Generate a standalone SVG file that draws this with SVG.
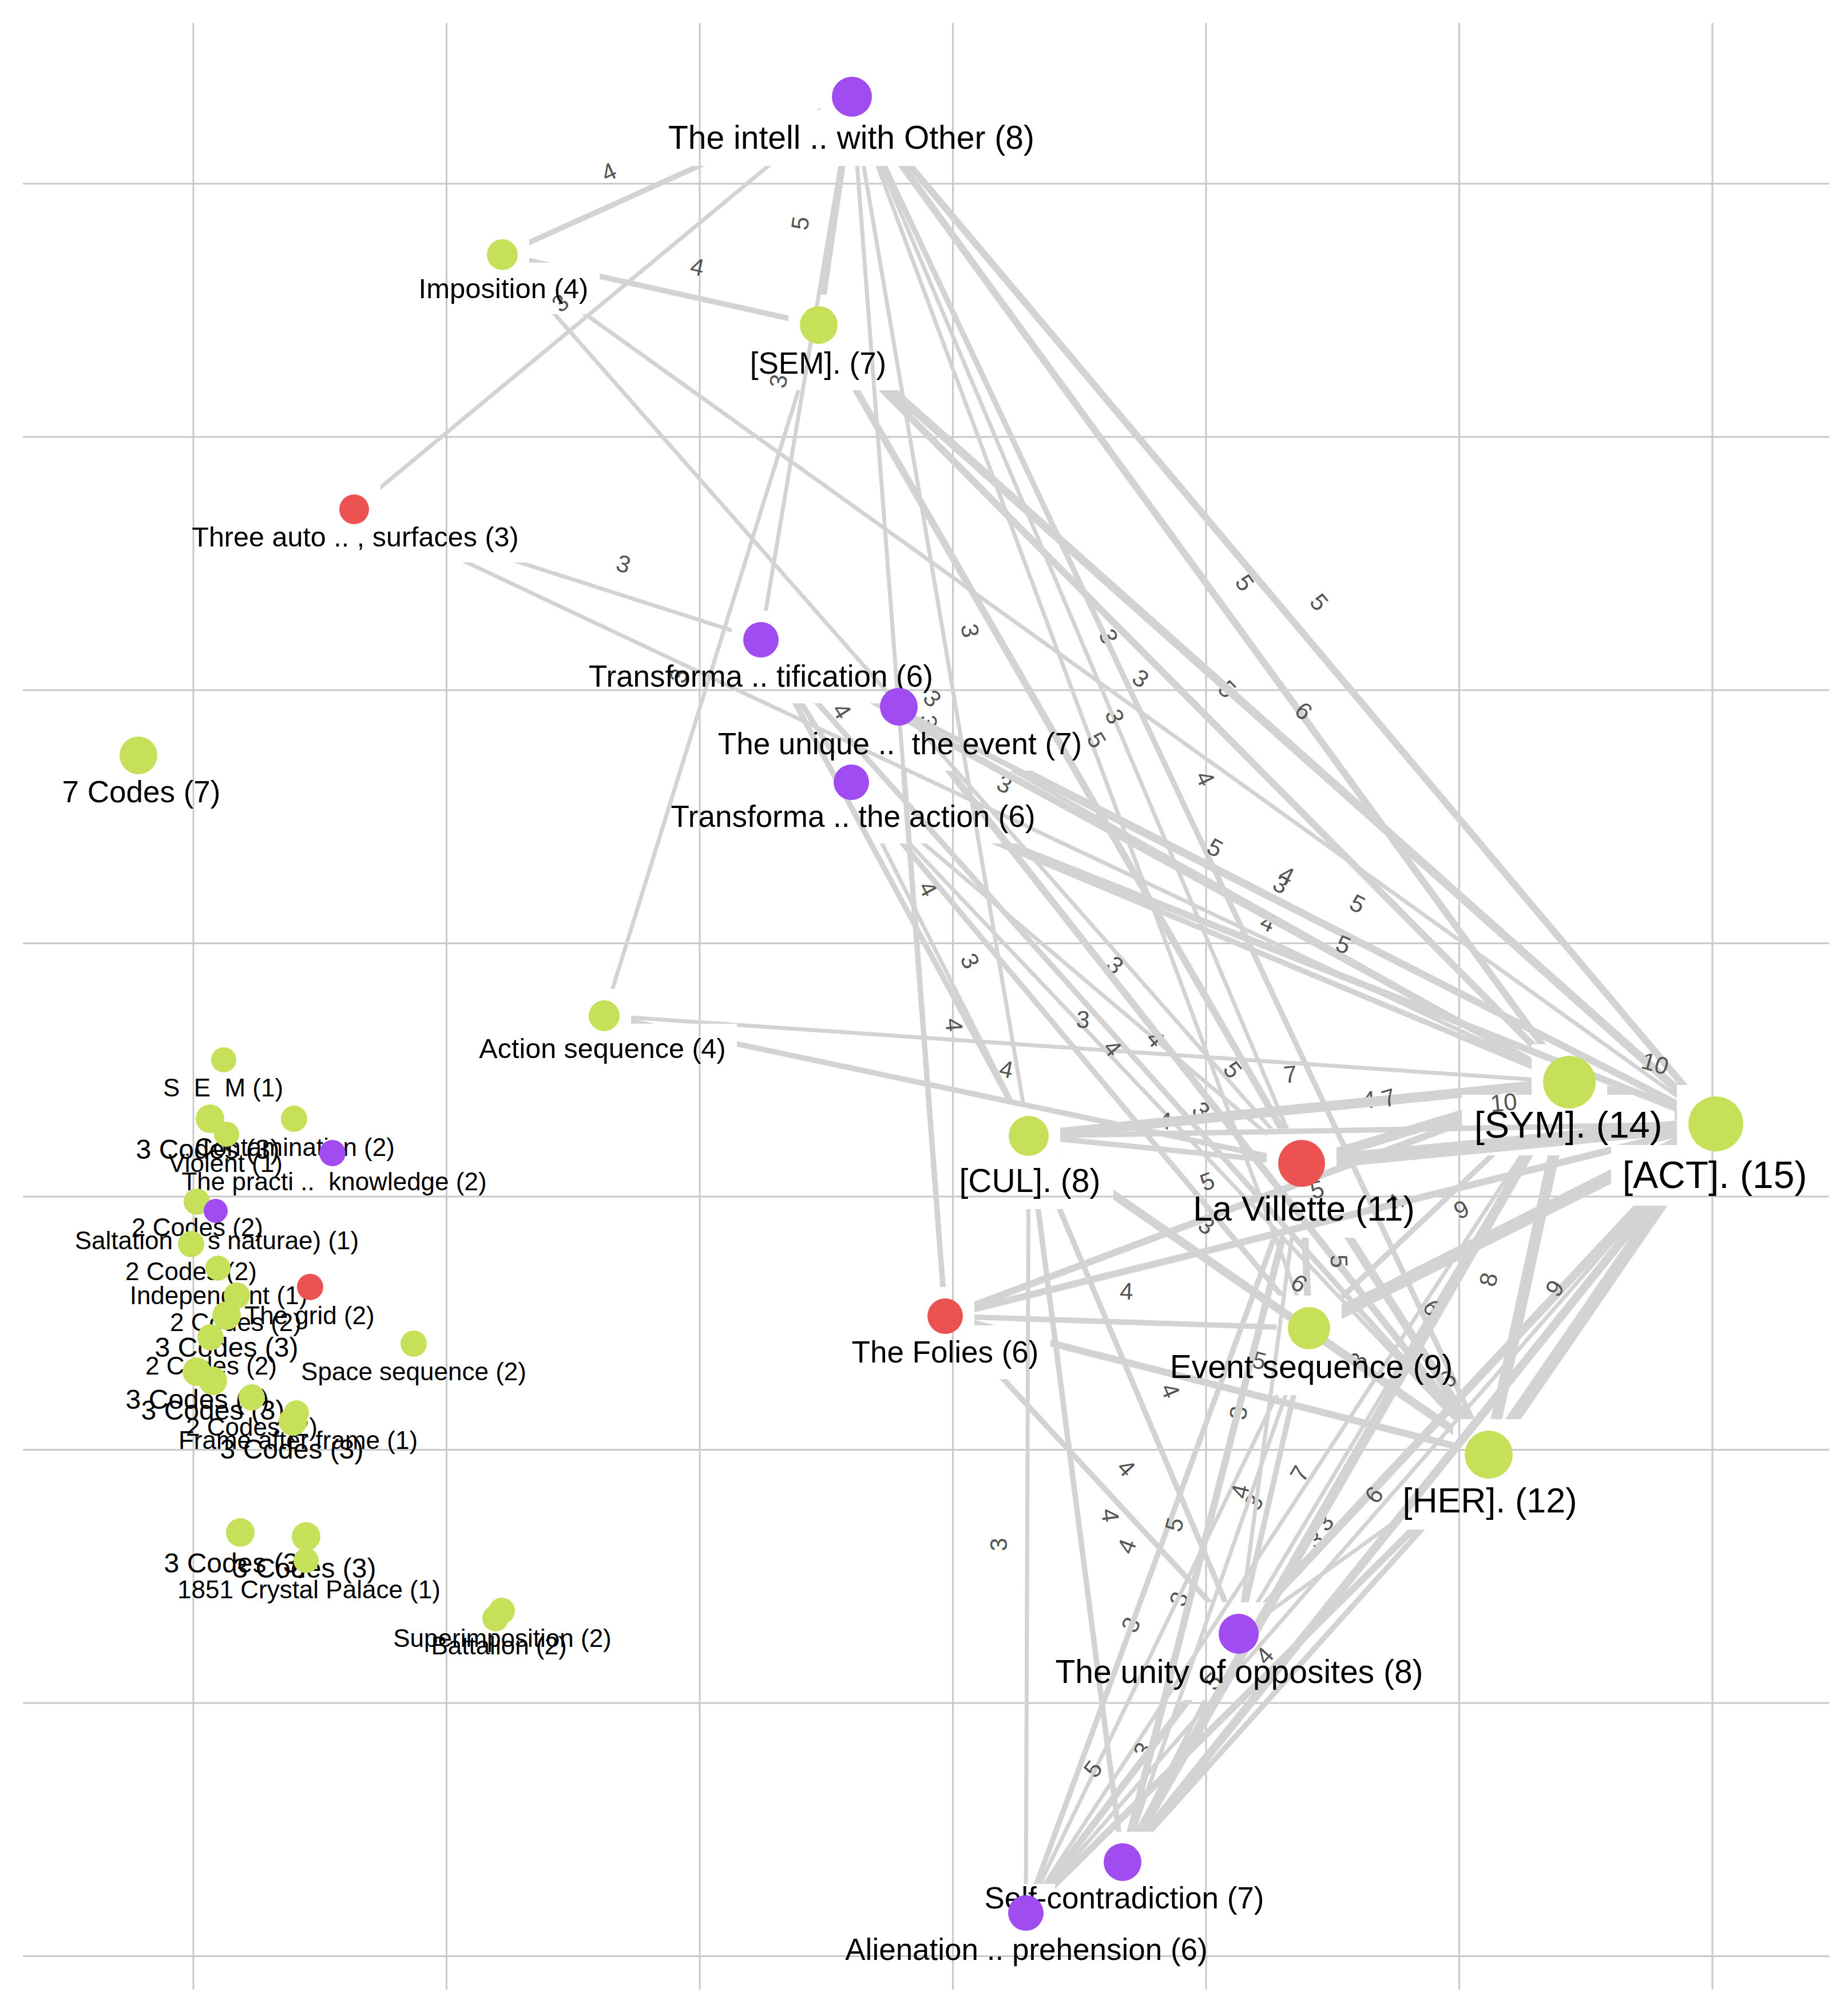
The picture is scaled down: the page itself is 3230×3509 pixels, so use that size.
<svg xmlns="http://www.w3.org/2000/svg" width="3230" height="3509" viewBox="0 0 3230 3509">
<defs>
<style>
.grid line{stroke:#c9c9c9;stroke-width:3}
.e{stroke:#d3d3d3;fill:none}
.w3{stroke-width:7}.w4{stroke-width:9.6}.w5{stroke-width:12.2}.w6{stroke-width:14.8}.w7{stroke-width:17.4}.w8{stroke-width:20}.w9{stroke-width:22.6}.w10{stroke-width:25}
.el{font-family:"Liberation Sans",Arial,sans-serif;font-size:42px;fill:#555;text-anchor:middle}
.nl{font-family:"Liberation Sans",Arial,sans-serif;fill:#000;text-anchor:middle;white-space:pre}
.g{fill:#c6e05a}.p{fill:#a04cf0}.r{fill:#ec5252}
</style>
<mask id="mA" maskUnits="userSpaceOnUse" x="0" y="0" width="3230" height="3509"><rect width="3230" height="3509" fill="#fff"/><rect x="1434" y="114" width="110" height="110"/><rect x="1147" y="192" width="683" height="98"/></mask>
<mask id="mB" maskUnits="userSpaceOnUse" x="0" y="0" width="3230" height="3509"><rect width="3230" height="3509" fill="#fff"/><rect x="831" y="398" width="94" height="94"/><rect x="713" y="459" width="335" height="90"/></mask>
<mask id="mC" maskUnits="userSpaceOnUse" x="0" y="0" width="3230" height="3509"><rect width="3230" height="3509" fill="#fff"/><rect x="1378" y="515" width="106" height="106"/><rect x="1291" y="588" width="278" height="94"/></mask>
<mask id="mD" maskUnits="userSpaceOnUse" x="0" y="0" width="3230" height="3509"><rect width="3230" height="3509" fill="#fff"/><rect x="573" y="844" width="92" height="92"/><rect x="315" y="895" width="612" height="88"/></mask>
<mask id="mE" maskUnits="userSpaceOnUse" x="0" y="0" width="3230" height="3509"><rect width="3230" height="3509" fill="#fff"/><rect x="1279" y="1067" width="102" height="102"/><rect x="1009" y="1135" width="642" height="94"/></mask>
<mask id="mF" maskUnits="userSpaceOnUse" x="0" y="0" width="3230" height="3509"><rect width="3230" height="3509" fill="#fff"/><rect x="1518" y="1182" width="106" height="106"/><rect x="1235" y="1253" width="676" height="94"/></mask>
<mask id="mG" maskUnits="userSpaceOnUse" x="0" y="0" width="3230" height="3509"><rect width="3230" height="3509" fill="#fff"/><rect x="1437" y="1316" width="102" height="102"/><rect x="1154" y="1380" width="674" height="94"/></mask>
<mask id="mI" maskUnits="userSpaceOnUse" x="0" y="0" width="3230" height="3509"><rect width="3230" height="3509" fill="#fff"/><rect x="1009" y="1728" width="94" height="94"/><rect x="818" y="1789" width="470" height="88"/></mask>
<mask id="mJ" maskUnits="userSpaceOnUse" x="0" y="0" width="3230" height="3509"><rect width="3230" height="3509" fill="#fff"/><rect x="1743" y="1930" width="110" height="110"/><rect x="1654" y="2015" width="292" height="98"/></mask>
<mask id="mK" maskUnits="userSpaceOnUse" x="0" y="0" width="3230" height="3509"><rect width="3230" height="3509" fill="#fff"/><rect x="2214" y="1972" width="122" height="122"/><rect x="2063" y="2061" width="432" height="102"/></mask>
<mask id="mL" maskUnits="userSpaceOnUse" x="0" y="0" width="3230" height="3509"><rect width="3230" height="3509" fill="#fff"/><rect x="2677" y="1825" width="132" height="132"/><rect x="2555" y="1913" width="372" height="106"/></mask>
<mask id="mM" maskUnits="userSpaceOnUse" x="0" y="0" width="3230" height="3509"><rect width="3230" height="3509" fill="#fff"/><rect x="2931" y="1896" width="136" height="136"/><rect x="2816" y="2001" width="362" height="106"/></mask>
<mask id="mN" maskUnits="userSpaceOnUse" x="0" y="0" width="3230" height="3509"><rect width="3230" height="3509" fill="#fff"/><rect x="1601" y="2249" width="102" height="102"/><rect x="1468" y="2316" width="368" height="94"/></mask>
<mask id="mO" maskUnits="userSpaceOnUse" x="0" y="0" width="3230" height="3509"><rect width="3230" height="3509" fill="#fff"/><rect x="2231" y="2264" width="114" height="114"/><rect x="2024" y="2340" width="536" height="98"/></mask>
<mask id="mP" maskUnits="userSpaceOnUse" x="0" y="0" width="3230" height="3509"><rect width="3230" height="3509" fill="#fff"/><rect x="2540" y="2480" width="124" height="124"/><rect x="2430" y="2571" width="348" height="102"/></mask>
<mask id="mQ" maskUnits="userSpaceOnUse" x="0" y="0" width="3230" height="3509"><rect width="3230" height="3509" fill="#fff"/><rect x="2110" y="2800" width="110" height="110"/><rect x="1821" y="2873" width="690" height="98"/></mask>
<mask id="mR" maskUnits="userSpaceOnUse" x="0" y="0" width="3230" height="3509"><rect width="3230" height="3509" fill="#fff"/><rect x="1909" y="3201" width="106" height="106"/><rect x="1700" y="3270" width="530" height="94"/></mask>
<mask id="mS" maskUnits="userSpaceOnUse" x="0" y="0" width="3230" height="3509"><rect width="3230" height="3509" fill="#fff"/><rect x="1742" y="3292" width="102" height="102"/><rect x="1458" y="3360" width="672" height="94"/></mask>
</defs>
<rect width="3230" height="3509" fill="#fff"/>
<g class="grid">
<line x1="338" y1="40" x2="338" y2="3477"/><line x1="780.5" y1="40" x2="780.5" y2="3477"/><line x1="1223" y1="40" x2="1223" y2="3477"/><line x1="1665.5" y1="40" x2="1665.5" y2="3477"/><line x1="2108" y1="40" x2="2108" y2="3477"/><line x1="2550.5" y1="40" x2="2550.5" y2="3477"/><line x1="2993" y1="40" x2="2993" y2="3477"/>
<line x1="40" y1="321" x2="3197" y2="321"/><line x1="40" y1="763.5" x2="3197" y2="763.5"/><line x1="40" y1="1206" x2="3197" y2="1206"/><line x1="40" y1="1648.5" x2="3197" y2="1648.5"/><line x1="40" y1="2091" x2="3197" y2="2091"/><line x1="40" y1="2533.5" x2="3197" y2="2533.5"/><line x1="40" y1="2976" x2="3197" y2="2976"/><line x1="40" y1="3418.5" x2="3197" y2="3418.5"/>
</g>
<g id="connectors">
<g mask="url(#mA)"><line class="e w3" x1="1489" y1="169" x2="619" y2="890" mask="url(#mD)"/></g><text class="el" transform="translate(979 529) rotate(-39.6)" y="15">3</text>
<g mask="url(#mA)"><line class="e w3" x1="1489" y1="169" x2="1330" y2="1118" mask="url(#mE)"/></g><text class="el" transform="translate(1360 666) rotate(-80.5)" y="15">3</text>
<g mask="url(#mA)"><line class="e w3" x1="1489" y1="169" x2="1652" y2="2300" mask="url(#mN)"/></g><text class="el" transform="translate(1623 1261) rotate(85.6)" y="15">3</text>
<g mask="url(#mA)"><line class="e w3" x1="1489" y1="169" x2="1798" y2="1985" mask="url(#mJ)"/></g><text class="el" transform="translate(1696 1102) rotate(80.3)" y="15">3</text>
<g mask="url(#mA)"><line class="e w3" x1="1489" y1="169" x2="2275" y2="2033" mask="url(#mK)"/></g><text class="el" transform="translate(1938 1112) rotate(67.1)" y="15">3</text>
<g mask="url(#mA)"><line class="e w3" x1="1489" y1="169" x2="2288" y2="2321" mask="url(#mO)"/></g><text class="el" transform="translate(1949 1252) rotate(69.6)" y="15">3</text>
<g mask="url(#mB)"><line class="e w3" x1="878" y1="445" x2="2275" y2="2033" mask="url(#mK)"/></g><text class="el" transform="translate(1630 1220) rotate(48.7)" y="15">3</text>
<g mask="url(#mB)"><line class="e w3" x1="878" y1="445" x2="2999" y2="1964" mask="url(#mM)"/></g><text class="el" transform="translate(1994 1185) rotate(35.6)" y="15">3</text>
<g mask="url(#mC)"><line class="e w3" x1="1431" y1="568" x2="1056" y2="1775" mask="url(#mI)"/></g><text class="el" transform="translate(1186 1181) rotate(-72.7)" y="15">3</text>
<g mask="url(#mD)"><line class="e w3" x1="619" y1="890" x2="1330" y2="1118" mask="url(#mE)"/></g><text class="el" transform="translate(1090 985) rotate(17.8)" y="15">3</text>
<g mask="url(#mD)"><line class="e w3" x1="619" y1="890" x2="2743" y2="1891" mask="url(#mL)"/></g><text class="el" transform="translate(1756 1370) rotate(25.2)" y="15">3</text>
<g mask="url(#mF)"><line class="e w3" x1="1571" y1="1235" x2="2743" y2="1891" mask="url(#mL)"/></g><text class="el" transform="translate(2239 1545) rotate(29.2)" y="15">3</text>
<g mask="url(#mG)"><line class="e w3" x1="1488" y1="1367" x2="1798" y2="1985" mask="url(#mJ)"/></g><text class="el" transform="translate(1696 1679) rotate(63.4)" y="15">3</text>
<g mask="url(#mG)"><line class="e w3" x1="1488" y1="1367" x2="2275" y2="2033" mask="url(#mK)"/></g><text class="el" transform="translate(1949 1686) rotate(40.2)" y="15">3</text>
<g mask="url(#mG)"><line class="e w3" x1="1488" y1="1367" x2="2602" y2="2542" mask="url(#mP)"/></g><text class="el" transform="translate(2100 1940) rotate(46.5)" y="15">3</text>
<g mask="url(#mI)"><line class="e w3" x1="1056" y1="1775" x2="2743" y2="1891" mask="url(#mL)"/></g><text class="el" transform="translate(1893 1781) rotate(3.9)" y="15">3</text>
<g mask="url(#mJ)"><line class="e w3" x1="1798" y1="1985" x2="2288" y2="2321" mask="url(#mO)"/></g><text class="el" transform="translate(2109 2141) rotate(34.4)" y="15">3</text>
<g mask="url(#mJ)"><line class="e w3" x1="1798" y1="1985" x2="1793" y2="3343" mask="url(#mS)"/></g><text class="el" transform="translate(1745 2699) rotate(-90)" y="15">3</text>
<g mask="url(#mL)"><line class="e w3" x1="2743" y1="1891" x2="2165" y2="2855" mask="url(#mQ)"/></g><text class="el" transform="translate(2373 2377) rotate(-59)" y="15">3</text>
<g mask="url(#mL)"><line class="e w3" x1="2743" y1="1891" x2="1793" y2="3343" mask="url(#mS)"/></g><text class="el" transform="translate(2191 2625) rotate(-56.8)" y="15">3</text>
<g mask="url(#mM)"><line class="e w3" x1="2999" y1="1964" x2="1793" y2="3343" mask="url(#mS)"/></g><text class="el" transform="translate(2315 2660) rotate(-48.8)" y="15">3</text>
<g mask="url(#mK)"><line class="e w3" x1="2275" y1="2033" x2="2165" y2="2855" mask="url(#mQ)"/></g><text class="el" transform="translate(2164 2469) rotate(-82.4)" y="15">3</text>
<g mask="url(#mO)"><line class="e w3" x1="2288" y1="2321" x2="2602" y2="2542" mask="url(#mP)"/></g>
<g mask="url(#mO)"><line class="e w3" x1="2288" y1="2321" x2="1962" y2="3254" mask="url(#mR)"/></g><text class="el" transform="translate(2060 2794) rotate(-70.7)" y="15">3</text>
<g mask="url(#mO)"><line class="e w3" x1="2288" y1="2321" x2="1793" y2="3343" mask="url(#mS)"/></g><text class="el" transform="translate(1976 2839) rotate(-64.2)" y="15">3</text>
<g mask="url(#mP)"><line class="e w3" x1="2602" y1="2542" x2="2165" y2="2855" mask="url(#mQ)"/></g><text class="el" transform="translate(2299 2690) rotate(-35.6)" y="15">3</text>
<g mask="url(#mQ)"><line class="e w3" x1="2165" y1="2855" x2="1962" y2="3254" mask="url(#mR)"/></g><text class="el" transform="translate(1997 3058) rotate(-63)" y="15">3</text>
<g mask="url(#mA)"><line class="e w4" x1="1489" y1="169" x2="878" y2="445" mask="url(#mB)"/></g><text class="el" transform="translate(1064 300) rotate(-24.3)" y="15">4</text>
<g mask="url(#mB)"><line class="e w4" x1="878" y1="445" x2="1431" y2="568" mask="url(#mC)"/></g><text class="el" transform="translate(1219 466) rotate(12.5)" y="15">4</text>
<g mask="url(#mA)"><line class="e w4" x1="1489" y1="169" x2="2602" y2="2542" mask="url(#mP)"/></g><text class="el" transform="translate(2107 1360) rotate(64.9)" y="15">4</text>
<g mask="url(#mE)"><line class="e w4" x1="1330" y1="1118" x2="1488" y2="1367" mask="url(#mG)"/></g><text class="el" transform="translate(1472 1242) rotate(57.6)" y="15">4</text>
<g mask="url(#mE)"><line class="e w4" x1="1330" y1="1118" x2="1798" y2="1985" mask="url(#mJ)"/></g><text class="el" transform="translate(1623 1553) rotate(61.6)" y="15">4</text>
<g mask="url(#mE)"><line class="e w4" x1="1330" y1="1118" x2="2602" y2="2542" mask="url(#mP)"/></g><text class="el" transform="translate(2020 1815) rotate(48.2)" y="15">4</text>
<g mask="url(#mE)"><line class="e w4" x1="1330" y1="1118" x2="2999" y2="1964" mask="url(#mM)"/></g><text class="el" transform="translate(2249 1529) rotate(26.9)" y="15">4</text>
<g mask="url(#mF)"><line class="e w4" x1="1571" y1="1235" x2="1652" y2="2300" mask="url(#mN)"/></g><text class="el" transform="translate(1668 1791) rotate(85.7)" y="15">4</text>
<g mask="url(#mG)"><line class="e w4" x1="1488" y1="1367" x2="2288" y2="2321" mask="url(#mO)"/></g><text class="el" transform="translate(1945 1831) rotate(50)" y="15">4</text>
<g mask="url(#mG)"><line class="e w4" x1="1488" y1="1367" x2="2743" y2="1891" mask="url(#mL)"/></g><text class="el" transform="translate(2216 1612) rotate(22.7)" y="15">4</text>
<g mask="url(#mI)"><line class="e w4" x1="1056" y1="1775" x2="2275" y2="2033" mask="url(#mK)"/></g><text class="el" transform="translate(1759 1868) rotate(12)" y="15">4</text>
<g mask="url(#mJ)"><line class="e w4" x1="1798" y1="1985" x2="2275" y2="2033" mask="url(#mK)"/></g><text class="el" transform="translate(2036 1958) rotate(5.7)" y="15">4</text>
<g mask="url(#mJ)"><line class="e w4" x1="1798" y1="1985" x2="2999" y2="1964" mask="url(#mM)"/></g><text class="el" transform="translate(2392 1921) rotate(-1)" y="15">4</text>
<g mask="url(#mJ)"><line class="e w4" x1="1798" y1="1985" x2="2165" y2="2855" mask="url(#mQ)"/></g><text class="el" transform="translate(2046 2430) rotate(67.1)" y="15">4</text>
<g mask="url(#mJ)"><line class="e w4" x1="1798" y1="1985" x2="1962" y2="3254" mask="url(#mR)"/></g><text class="el" transform="translate(1941 2648) rotate(82.6)" y="15">4</text>
<g mask="url(#mN)"><line class="e w4" x1="1652" y1="2300" x2="2288" y2="2321" mask="url(#mO)"/></g><text class="el" transform="translate(1969 2256) rotate(1.9)" y="15">4</text>
<g mask="url(#mN)"><line class="e w4" x1="1652" y1="2300" x2="2165" y2="2855" mask="url(#mQ)"/></g><text class="el" transform="translate(1969 2565) rotate(47.3)" y="15">4</text>
<g mask="url(#mL)"><line class="e w4" x1="2743" y1="1891" x2="2288" y2="2321" mask="url(#mO)"/></g><text class="el" transform="translate(2439 2101) rotate(-43.4)" y="15">4</text>
<g mask="url(#mK)"><line class="e w4" x1="2275" y1="2033" x2="1793" y2="3343" mask="url(#mS)"/></g><text class="el" transform="translate(1969 2702) rotate(-69.8)" y="15">4</text>
<g mask="url(#mO)"><line class="e w4" x1="2288" y1="2321" x2="2165" y2="2855" mask="url(#mQ)"/></g><text class="el" transform="translate(2167 2606) rotate(-77)" y="15">4</text>
<g mask="url(#mP)"><line class="e w4" x1="2602" y1="2542" x2="1962" y2="3254" mask="url(#mR)"/></g><text class="el" transform="translate(2210 2893) rotate(-48.1)" y="15">4</text>
<g mask="url(#mA)"><line class="e w5" x1="1489" y1="169" x2="1431" y2="568" mask="url(#mC)"/></g><text class="el" transform="translate(1398 390) rotate(-81.7)" y="15">5</text>
<g mask="url(#mA)"><line class="e w5" x1="1489" y1="169" x2="2743" y2="1891" mask="url(#mL)"/></g><text class="el" transform="translate(2176 1018) rotate(53.9)" y="15">5</text>
<g mask="url(#mA)"><line class="e w5" x1="1489" y1="169" x2="2999" y2="1964" mask="url(#mM)"/></g><text class="el" transform="translate(2306 1052) rotate(49.9)" y="15">5</text>
<g mask="url(#mC)"><line class="e w5" x1="1431" y1="568" x2="2275" y2="2033" mask="url(#mK)"/></g><text class="el" transform="translate(1917 1293) rotate(60.1)" y="15">5</text>
<g mask="url(#mC)"><line class="e w5" x1="1431" y1="568" x2="2743" y2="1891" mask="url(#mL)"/></g><text class="el" transform="translate(2145 1204) rotate(45.2)" y="15">5</text>
<g mask="url(#mE)"><line class="e w5" x1="1330" y1="1118" x2="2743" y2="1891" mask="url(#mL)"/></g><text class="el" transform="translate(2124 1481) rotate(28.7)" y="15">5</text>
<g mask="url(#mF)"><line class="e w5" x1="1571" y1="1235" x2="2999" y2="1964" mask="url(#mM)"/></g><text class="el" transform="translate(2373 1579) rotate(27)" y="15">5</text>
<g mask="url(#mF)"><line class="e w5" x1="1571" y1="1235" x2="2602" y2="2542" mask="url(#mP)"/></g><text class="el" transform="translate(2155 1869) rotate(51.7)" y="15">5</text>
<g mask="url(#mG)"><line class="e w5" x1="1488" y1="1367" x2="2999" y2="1964" mask="url(#mM)"/></g><text class="el" transform="translate(2348 1650) rotate(21.6)" y="15">5</text>
<g mask="url(#mN)"><line class="e w5" x1="1652" y1="2300" x2="2743" y2="1891" mask="url(#mL)"/></g><text class="el" transform="translate(2110 2064) rotate(-20.6)" y="15">5</text>
<g mask="url(#mN)"><line class="e w5" x1="1652" y1="2300" x2="2999" y2="1964" mask="url(#mM)"/></g><text class="el" transform="translate(2302 2078) rotate(-14)" y="15">5</text>
<g mask="url(#mN)"><line class="e w5" x1="1652" y1="2300" x2="2602" y2="2542" mask="url(#mP)"/></g><text class="el" transform="translate(2201 2377) rotate(14.3)" y="15">5</text>
<g mask="url(#mK)"><line class="e w5" x1="2275" y1="2033" x2="1962" y2="3254" mask="url(#mR)"/></g><text class="el" transform="translate(2052 2664) rotate(-75.6)" y="15">5</text>
<g mask="url(#mK)"><line class="e w5" x1="2275" y1="2033" x2="2288" y2="2321" mask="url(#mO)"/></g><text class="el" transform="translate(2341 2204) rotate(87.4)" y="15">5</text>
<g mask="url(#mP)"><line class="e w5" x1="2602" y1="2542" x2="1793" y2="3343" mask="url(#mS)"/></g><text class="el" transform="translate(2120 2938) rotate(-44.7)" y="15">5</text>
<g mask="url(#mQ)"><line class="e w5" x1="2165" y1="2855" x2="1793" y2="3343" mask="url(#mS)"/></g><text class="el" transform="translate(1910 3091) rotate(-52.7)" y="15">5</text>
<g mask="url(#mC)"><line class="e w6" x1="1431" y1="568" x2="2999" y2="1964" mask="url(#mM)"/></g><text class="el" transform="translate(2279 1242) rotate(41.7)" y="15">6</text>
<g mask="url(#mJ)"><line class="e w6" x1="1798" y1="1985" x2="2602" y2="2542" mask="url(#mP)"/></g><text class="el" transform="translate(2271 2242) rotate(34.7)" y="15">6</text>
<g mask="url(#mM)"><line class="e w6" x1="2999" y1="1964" x2="2165" y2="2855" mask="url(#mQ)"/></g><text class="el" transform="translate(2530 2410) rotate(-46.9)" y="15">6</text>
<g mask="url(#mM)"><line class="e w6" x1="2999" y1="1964" x2="1962" y2="3254" mask="url(#mR)"/></g><text class="el" transform="translate(2401 2612) rotate(-51.2)" y="15">6</text>
<g mask="url(#mK)"><line class="e w6" x1="2275" y1="2033" x2="2602" y2="2542" mask="url(#mP)"/></g><text class="el" transform="translate(2504 2285) rotate(57.3)" y="15">6</text>
<g mask="url(#mJ)"><line class="e w7" x1="1798" y1="1985" x2="2743" y2="1891" mask="url(#mL)"/></g><text class="el" transform="translate(2255 1877) rotate(-5.7)" y="15">7</text>
<g mask="url(#mK)"><line class="e w7" x1="2275" y1="2033" x2="2743" y2="1891" mask="url(#mL)"/></g><text class="el" transform="translate(2427 1918) rotate(-16.9)" y="15">7</text>
<g mask="url(#mL)"><line class="e w7" x1="2743" y1="1891" x2="1962" y2="3254" mask="url(#mR)"/></g><text class="el" transform="translate(2271 2575) rotate(-60.2)" y="15">7</text>
<g mask="url(#mL)"><line class="e w8" x1="2743" y1="1891" x2="2602" y2="2542" mask="url(#mP)"/></g><text class="el" transform="translate(2601 2236) rotate(-77.8)" y="15">8</text>
<g mask="url(#mM)"><line class="e w9" x1="2999" y1="1964" x2="2602" y2="2542" mask="url(#mP)"/></g><text class="el" transform="translate(2717 2251) rotate(-55.5)" y="15">9</text>
<g mask="url(#mM)"><line class="e w9" x1="2999" y1="1964" x2="2288" y2="2321" mask="url(#mO)"/></g><text class="el" transform="translate(2554 2113) rotate(-26.7)" y="15">9</text>
<g mask="url(#mK)"><line class="e w10" x1="2275" y1="2033" x2="2999" y2="1964" mask="url(#mM)"/></g><text class="el" transform="translate(2628 1926) rotate(-5.4)" y="15">10</text>
<g mask="url(#mL)"><line class="e w10" x1="2743" y1="1891" x2="2999" y2="1964" mask="url(#mM)"/></g><text class="el" transform="translate(2893 1858) rotate(15.9)" y="15">10</text>
</g>
<g id="nodes">
<g id="n-intell"><circle class="p" cx="1489" cy="169" r="35"/><text class="nl" x="1488" y="260" font-size="57">The intell .. with Other (8)</text></g>
<g id="n-imposition"><circle class="g" cx="878" cy="445" r="27"/><text class="nl" x="880" y="521" font-size="49">Imposition (4)</text></g>
<g id="n-sem"><circle class="g" cx="1431" cy="568" r="33"/><text class="nl" x="1430" y="653" font-size="53">[SEM]. (7)</text></g>
<g id="n-threeauto"><circle class="r" cx="619" cy="890" r="26"/><text class="nl" x="621" y="955" font-size="48.5">Three auto .. , surfaces (3)</text></g>
<g id="n-transtif"><circle class="p" cx="1330" cy="1118" r="31"/><text class="nl" x="1330" y="1200" font-size="53">Transforma .. tification (6)</text></g>
<g id="n-unique"><circle class="p" cx="1571" cy="1235" r="33"/><text class="nl" x="1573" y="1318" font-size="53" xml:space="preserve">The unique ..  the event (7)</text></g>
<g id="n-7codes"><circle class="g" cx="242" cy="1320" r="33"/><text class="nl" x="247" y="1402" font-size="53">7 Codes (7)</text></g>
<g id="n-transact"><circle class="p" cx="1488" cy="1367" r="31"/><text class="nl" x="1491" y="1445" font-size="53">Transforma .. the action (6)</text></g>
<g id="n-actionseq"><circle class="g" cx="1056" cy="1775" r="27"/><text class="nl" x="1053" y="1849" font-size="48.5">Action sequence (4)</text></g>
<g id="n-sem1"><circle class="g" cx="391" cy="1852" r="22"/><text class="nl" x="390" y="1916" font-size="44" xml:space="preserve">S  E  M (1)</text></g>
<g id="n-sym"><circle class="g" cx="2743" cy="1891" r="46"/><text class="nl" x="2741" y="1988" font-size="65">[SYM]. (14)</text></g>
<g id="n-3codes-a"><circle class="g" cx="367" cy="1955" r="25"/><text class="nl" x="363" y="2025" font-size="48">3 Codes (3)</text></g>
<g id="n-contamination"><circle class="g" cx="514" cy="1955" r="23"/><text class="nl" x="515" y="2020" font-size="44">Contamination (2)</text></g>
<g id="n-violent"><circle class="g" cx="396" cy="1982" r="22"/><text class="nl" x="394" y="2048" font-size="44">Violent (1)</text></g>
<g id="n-act"><circle class="g" cx="2999" cy="1964" r="48"/><text class="nl" x="2997" y="2076" font-size="66">[ACT]. (15)</text></g>
<g id="n-cul"><circle class="g" cx="1798" cy="1985" r="35"/><text class="nl" x="1800" y="2083" font-size="57">[CUL]. (8)</text></g>
<g id="n-practi"><circle class="p" cx="581" cy="2015" r="23"/><text class="nl" x="584" y="2080" font-size="44" xml:space="preserve">The practi ..  knowledge (2)</text></g>
<g id="n-lavillette"><circle class="r" cx="2275" cy="2033" r="41"/><text class="nl" x="2279" y="2133" font-size="61">La Villette (11)</text></g>
<g id="n-2codes-a"><circle class="g" cx="344" cy="2100" r="23"/><text class="nl" x="345" y="2160" font-size="44">2 Codes (2)</text></g>
<g id="n-saltation"><circle class="p" cx="377" cy="2116" r="21"/><text class="nl" x="379" y="2183" font-size="44" xml:space="preserve">Saltation  .. s naturae) (1)</text></g>
<g id="n-2codes-b"><circle class="g" cx="334" cy="2174" r="23"/><text class="nl" x="334" y="2237" font-size="44">2 Codes (2)</text></g>
<g id="n-independent"><circle class="g" cx="381" cy="2216" r="22"/><text class="nl" x="382" y="2279" font-size="44">Independent (1)</text></g>
<g id="n-grid"><circle class="r" cx="542" cy="2249" r="23"/><text class="nl" x="541" y="2314" font-size="44">The grid (2)</text></g>
<g id="n-2codes-c"><circle class="g" cx="414" cy="2264" r="23"/><text class="nl" x="412" y="2326" font-size="44">2 Codes (2)</text></g>
<g id="n-3codes-b"><circle class="g" cx="396" cy="2299" r="25"/><text class="nl" x="396" y="2371" font-size="48">3 Codes (3)</text></g>
<g id="n-folies"><circle class="r" cx="1652" cy="2300" r="31"/><text class="nl" x="1652" y="2381" font-size="53">The Folies (6)</text></g>
<g id="n-eventseq"><circle class="g" cx="2288" cy="2321" r="37"/><text class="nl" x="2292" y="2408" font-size="57">Event sequence (9)</text></g>
<g id="n-2codes-d"><circle class="g" cx="368" cy="2337" r="23"/><text class="nl" x="369" y="2402" font-size="44">2 Codes (2)</text></g>
<g id="n-spaceseq"><circle class="g" cx="723" cy="2348" r="23"/><text class="nl" x="723" y="2412" font-size="44">Space sequence (2)</text></g>
<g id="n-3codes-c"><circle class="g" cx="344" cy="2397" r="25"/><text class="nl" x="345" y="2462" font-size="48">3 Codes (3)</text></g>
<g id="n-3codes-d"><circle class="g" cx="372" cy="2413" r="25"/><text class="nl" x="372" y="2481" font-size="48">3 Codes (3)</text></g>
<g id="n-2codes-e"><circle class="g" cx="440" cy="2442" r="23"/><text class="nl" x="440" y="2509" font-size="44">2 Codes (2)</text></g>
<g id="n-frame"><circle class="g" cx="518" cy="2469" r="22"/><text class="nl" x="521" y="2532" font-size="44">Frame after frame (1)</text></g>
<g id="n-3codes-e"><circle class="g" cx="512" cy="2484" r="25"/><text class="nl" x="510" y="2549" font-size="48">3 Codes (3)</text></g>
<g id="n-her"><circle class="g" cx="2602" cy="2542" r="42"/><text class="nl" x="2604" y="2643" font-size="61">[HER]. (12)</text></g>
<g id="n-3codes-f"><circle class="g" cx="420" cy="2678" r="25"/><text class="nl" x="412" y="2748" font-size="48">3 Codes (3)</text></g>
<g id="n-3codes-g"><circle class="g" cx="535" cy="2685" r="25"/><text class="nl" x="532" y="2757" font-size="48">3 Codes (3)</text></g>
<g id="n-crystal"><circle class="g" cx="535" cy="2727" r="22"/><text class="nl" x="540" y="2793" font-size="44">1851 Crystal Palace (1)</text></g>
<g id="n-superimposition"><circle class="g" cx="877" cy="2815" r="23"/><text class="nl" x="878" y="2878" font-size="44">Superimposition (2)</text></g>
<g id="n-battalion"><circle class="g" cx="866" cy="2828" r="23"/><text class="nl" x="872" y="2891" font-size="44">Battalion (2)</text></g>
<g id="n-unity"><circle class="p" cx="2165" cy="2855" r="35"/><text class="nl" x="2166" y="2941" font-size="57">The unity of opposites (8)</text></g>
<g id="n-selfcontra"><circle class="p" cx="1962" cy="3254" r="33"/><text class="nl" x="1965" y="3335" font-size="53">Self-contradiction (7)</text></g>
<g id="n-alienation"><circle class="p" cx="1793" cy="3343" r="31"/><text class="nl" x="1794" y="3425" font-size="53">Alienation .. prehension (6)</text></g>
</g>
</svg>
